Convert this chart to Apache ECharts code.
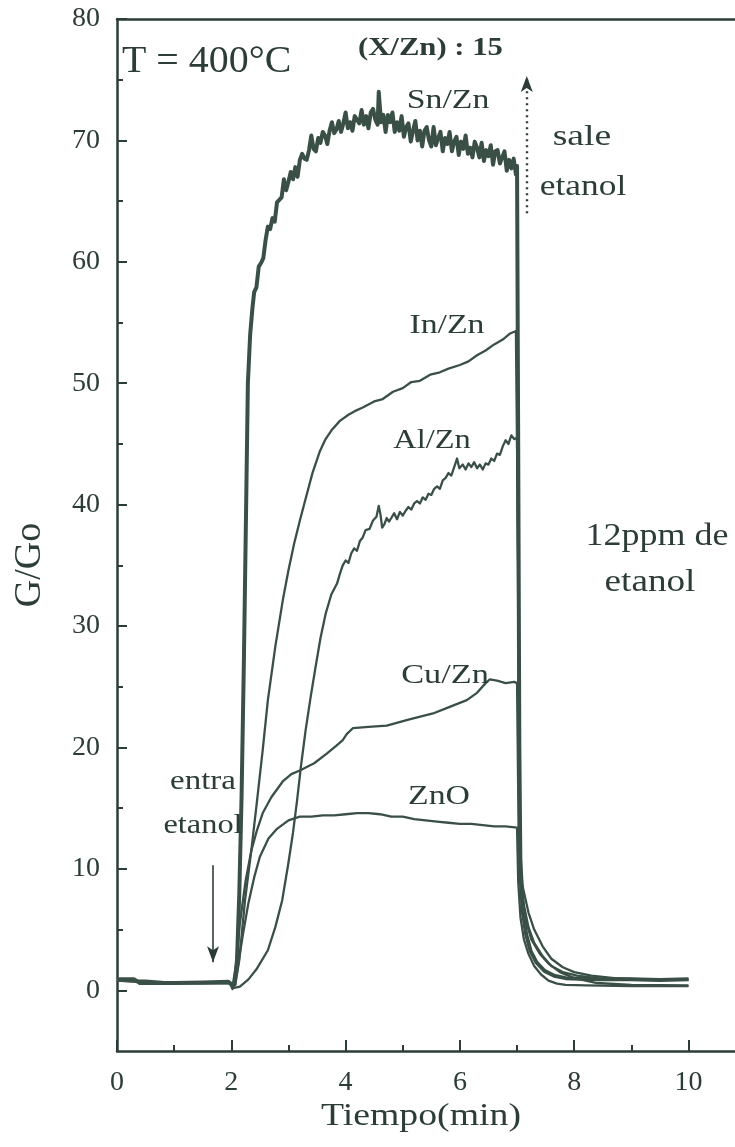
<!DOCTYPE html>
<html>
<head>
<meta charset="utf-8">
<script src="https://cdn.jsdelivr.net/npm/echarts@6/dist/echarts.min.js"></script>
<style>
  html, body { margin: 0; padding: 0; background: #ffffff; }
  #chart { width: 735px; height: 1147px; }
</style>
</head>
<body>
<div id="chart"></div>
<script>
// G/Go response of doped ZnO films, 12 ppm ethanol at 400 °C ([time in min, G/Go])
const snZn = [
  [0, 0.9], [0.3, 0.9], [0.4, 0.6], [1.0, 0.6], [1.5, 0.65], [1.95, 0.7], [2.02, 0.4], [2.06, 0.5],
  [2.1, 2.5], [2.14, 8], [2.18, 16], [2.22, 27], [2.26, 40], [2.29, 50], [2.33, 54], [2.37, 56.2],
  [2.40, 57.5], [2.44, 57.9], [2.48, 59.6], [2.52, 59.9], [2.56, 60.3], [2.60, 61.8], [2.64, 62.9],
  [2.68, 62.7], [2.72, 63.6], [2.76, 63.3], [2.80, 64.9], [2.84, 65.1], [2.88, 65.3], [2.92, 66.8],
  [2.96, 65.9], [3.00, 66.6], [3.04, 67.4], [3.08, 66.8], [3.12, 67.8], [3.16, 67.0], [3.20, 68.4],
  [3.24, 68.9], [3.28, 68.5], [3.32, 68.4], [3.36, 69.2], [3.40, 70.4], [3.44, 69.3], [3.48, 69.1],
  [3.52, 70.2], [3.56, 69.8], [3.60, 70.7], [3.64, 70.4], [3.68, 69.7], [3.72, 70.8], [3.76, 71.5],
  [3.80, 70.6], [3.84, 70.9], [3.88, 71.6], [3.92, 70.7], [3.96, 71.4], [4.00, 72.3], [4.04, 71.0],
  [4.08, 71.5], [4.12, 70.8], [4.16, 72.0], [4.20, 71.7], [4.24, 71.4], [4.28, 72.5], [4.32, 71.3],
  [4.36, 72.0], [4.40, 71.0], [4.44, 72.3], [4.48, 72.6], [4.52, 71.7], [4.56, 71.3], [4.58, 74.0],
  [4.62, 71.5], [4.66, 72.1], [4.70, 70.7], [4.74, 72.1], [4.78, 71.5], [4.82, 72.3], [4.86, 70.7],
  [4.90, 71.5], [4.94, 70.8], [4.98, 72.0], [5.02, 70.3], [5.06, 71.1], [5.10, 71.4], [5.14, 69.9],
  [5.18, 70.8], [5.22, 71.6], [5.26, 70.0], [5.30, 70.8], [5.34, 69.5], [5.38, 70.8], [5.42, 71.1],
  [5.46, 70.0], [5.50, 69.5], [5.54, 71.1], [5.58, 69.6], [5.62, 70.2], [5.66, 70.7], [5.70, 69.1],
  [5.74, 70.2], [5.78, 69.7], [5.82, 70.7], [5.86, 69.1], [5.90, 69.9], [5.94, 70.3], [5.98, 68.8],
  [6.02, 69.9], [6.06, 69.3], [6.10, 70.4], [6.14, 68.9], [6.18, 69.4], [6.22, 68.6], [6.26, 69.9],
  [6.30, 69.4], [6.34, 68.6], [6.38, 69.8], [6.42, 68.3], [6.46, 69.2], [6.50, 68.7], [6.54, 69.6],
  [6.58, 68.0], [6.62, 69.1], [6.66, 69.2], [6.70, 68.1], [6.74, 68.6], [6.78, 69.1], [6.82, 67.5],
  [6.86, 68.4], [6.90, 67.7], [6.94, 68.5], [6.98, 67.2], [7.00, 67.9],
  [7.02, 45], [7.04, 20], [7.06, 9.5], [7.10, 6.5], [7.16, 4.6], [7.24, 3.2], [7.34, 2.3],
  [7.48, 1.6], [7.65, 1.2], [7.85, 1.0], [8.1, 0.95], [8.5, 0.9], [9.0, 0.9], [9.5, 0.85], [10.0, 0.9]
];

const inZn = [
  [0, 0.8], [0.5, 0.8], [1.0, 0.6], [1.5, 0.6], [1.98, 0.6], [2.02, 0.3], [2.08, 0.8], [2.14, 2.5],
  [2.24, 7.4], [2.35, 11.5], [2.45, 15.6], [2.55, 19.8], [2.64, 23.9], [2.77, 28.3], [2.9, 32.1],
  [3.0, 34.6], [3.1, 36.8], [3.2, 38.7], [3.29, 40.3], [3.42, 42.6], [3.55, 44.4], [3.65, 45.4],
  [3.75, 46.1], [3.9, 46.9], [4.05, 47.4], [4.16, 47.7], [4.3, 48.0], [4.5, 48.5], [4.65, 48.7],
  [4.83, 49.3], [5.0, 49.6], [5.15, 50.1], [5.3, 50.2], [5.48, 50.7], [5.65, 50.9], [5.8, 51.2],
  [6.0, 51.5], [6.15, 51.8], [6.3, 52.3], [6.45, 52.7], [6.6, 53.2], [6.75, 53.6], [6.88, 54.1],
  [6.98, 54.3], [7.01, 54.2],
  [7.03, 30], [7.05, 12], [7.1, 8.5], [7.2, 6.4], [7.3, 5.0], [7.45, 3.6], [7.6, 2.6], [7.8, 1.9],
  [8.0, 1.5], [8.3, 1.2], [8.7, 1.0], [9.2, 0.9], [10.0, 0.9]
];

const alZn = [
  [0, 0.8], [0.5, 0.7], [1.0, 0.6], [1.5, 0.6], [2.0, 0.6], [2.05, 0.2], [2.15, 0.3], [2.3, 0.9],
  [2.45, 1.8], [2.64, 3.3], [2.77, 5.2], [2.89, 7.4], [3.0, 10.5], [3.08, 13.0], [3.15, 15.6],
  [3.22, 18.5], [3.3, 21.4], [3.38, 23.9], [3.47, 26.5], [3.56, 29.0], [3.65, 31.0], [3.75, 32.6],
  [3.85, 33.5], [3.9, 34.3], [3.95, 35.0], [4.0, 35.4], [4.05, 35.2], [4.1, 36.0], [4.15, 36.4],
  [4.2, 36.2], [4.25, 37.0], [4.3, 37.3], [4.35, 37.9], [4.42, 38.0], [4.48, 38.7], [4.54, 39.0],
  [4.58, 39.9], [4.61, 39.2], [4.64, 38.1], [4.68, 38.4], [4.72, 38.9], [4.76, 38.6], [4.8, 38.9],
  [4.85, 39.3], [4.9, 38.8], [4.95, 39.4], [5.0, 39.1], [5.05, 39.5], [5.1, 39.8], [5.15, 39.6],
  [5.2, 40.1], [5.25, 40.3], [5.3, 40.1], [5.35, 40.6], [5.4, 40.4], [5.45, 40.9], [5.5, 40.8],
  [5.55, 41.3], [5.6, 41.5], [5.65, 41.3], [5.7, 42.0], [5.75, 42.2], [5.8, 42.6], [5.85, 42.4],
  [5.9, 43.1], [5.95, 43.8], [5.99, 43.0], [6.05, 43.3], [6.1, 42.9], [6.15, 43.4], [6.2, 43.1],
  [6.25, 43.5], [6.3, 43.0], [6.35, 43.3], [6.4, 42.9], [6.45, 43.4], [6.5, 43.3], [6.55, 43.8],
  [6.6, 43.6], [6.65, 44.2], [6.7, 44.1], [6.75, 44.8], [6.8, 45.3], [6.85, 45.0], [6.9, 45.7],
  [6.95, 45.4], [7.0, 45.5],
  [7.03, 25], [7.06, 10], [7.12, 7.0], [7.2, 5.2], [7.3, 3.9], [7.45, 2.8], [7.6, 2.0], [7.8, 1.5],
  [8.05, 1.2], [8.4, 1.0], [9.0, 0.9], [10.0, 0.85]
];

const cuZn = [
  [0, 0.8], [0.5, 0.7], [1.0, 0.6], [1.5, 0.6], [1.98, 0.6], [2.02, 0.3], [2.08, 2.0], [2.15, 5.5],
  [2.25, 9.0], [2.35, 11.5], [2.45, 13.2], [2.55, 14.6], [2.7, 15.9], [2.9, 17.2], [3.05, 17.8],
  [3.2, 18.1], [3.45, 18.7], [3.67, 19.5], [3.85, 20.2], [3.95, 20.6], [4.02, 21.1], [4.13, 21.6],
  [4.4, 21.7], [4.72, 21.8], [5.1, 22.3], [5.53, 22.8], [5.8, 23.3], [6.12, 23.9], [6.3, 24.5],
  [6.45, 25.3], [6.52, 25.6], [6.65, 25.5], [6.8, 25.3], [6.95, 25.4], [7.0, 25.3],
  [7.03, 12], [7.08, 8.0], [7.15, 5.8], [7.25, 4.2], [7.4, 3.0], [7.55, 2.2], [7.75, 1.5],
  [8.0, 1.0], [8.4, 0.6], [9.0, 0.45], [10.0, 0.4]
];

const znO = [
  [0, 0.8], [0.5, 0.7], [1.0, 0.6], [1.5, 0.6], [1.98, 0.6], [2.02, 0.1], [2.1, 1.5], [2.2, 4.5],
  [2.3, 7.2], [2.4, 9.3], [2.5, 11.0], [2.65, 12.5], [2.8, 13.3], [3.0, 14.0], [3.2, 14.3],
  [3.4, 14.3], [3.6, 14.4], [3.8, 14.4], [4.0, 14.5], [4.2, 14.6], [4.4, 14.6], [4.6, 14.5],
  [4.8, 14.3], [5.0, 14.3], [5.2, 14.1], [5.4, 14.0], [5.6, 13.9], [5.8, 13.8], [6.0, 13.7],
  [6.2, 13.7], [6.4, 13.6], [6.6, 13.5], [6.8, 13.5], [7.0, 13.4],
  [7.02, 9], [7.06, 6], [7.12, 4.2], [7.2, 3.0], [7.3, 2.0], [7.42, 1.3], [7.55, 0.8], [7.7, 0.55],
  [7.85, 0.45], [8.2, 0.4], [9.0, 0.35], [10.0, 0.35]
];

const xTicks = [0, 2, 4, 6, 8, 10];
const yTicks = [0, 10, 20, 30, 40, 50, 60, 70, 80];

// ethanol in / out arrows, in data coordinates
const entraArrow = [[1.68, 10.3], [1.68, 2.3]];
const saleArrow = [[7.17, 64.0], [7.17, 75.3]];

const INK = '#2c3d36';
const LINE = '#3a5047';
const SERIF = '"Liberation Serif", "Times New Roman", serif';

const chart = echarts.init(document.getElementById('chart'), null, { renderer: 'canvas' });

function curve(name, data, width) {
  return {
    name: name, type: 'line', data: data, xAxisIndex: 0, yAxisIndex: 0,
    showSymbol: false, symbol: 'none', smooth: false, animation: false, silent: true,
    lineStyle: { color: LINE, width: width, join: 'round' }, z: 3
  };
}

function label(text, x, y, size, scaleX, extra) {
  extra = extra || {};
  return {
    type: 'text', x: x, y: y, scaleX: scaleX, rotation: extra.rotation || 0, silent: true, z: 10,
    style: {
      text: text, x: 0, y: 0, fill: INK,
      font: (extra.bold ? 'bold ' : '') + size + 'px ' + SERIF,
      align: extra.align || 'center', verticalAlign: 'middle',
      textAlign: extra.align || 'center', textVerticalAlign: 'middle'
    }
  };
}

const tickStyle = { color: INK, width: 2 };

const option = {
  backgroundColor: '#ffffff',
  animation: false,
  grid: [
    { left: 117, top: 19, width: 628.65, height: 1032, outerBoundsMode: 'none', containLabel: false },
    { left: 117, top: 19, width: 628.65, height: 971.3, outerBoundsMode: 'none', containLabel: false }
  ],
  xAxis: [
    {
      gridIndex: 0, type: 'value', position: 'bottom', min: 0, max: 11, interval: 2,
      axisLine: { show: true, onZero: false, lineStyle: { color: INK, width: 2.5 } },
      axisTick: { show: true, inside: true, length: 11, lineStyle: tickStyle },
      minorTick: { show: true, splitNumber: 2, length: 6, lineStyle: tickStyle },
      axisLabel: {
        margin: 18, color: INK, fontFamily: SERIF, fontSize: 28,
        formatter: v => (xTicks.indexOf(v) >= 0 ? String(v) : '')
      },
      splitLine: { show: false }, minorSplitLine: { show: false }
    },
    {
      gridIndex: 0, type: 'value', position: 'top', min: 0, max: 11,
      axisLine: { show: true, onZero: false, lineStyle: { color: INK, width: 2.5 } },
      axisTick: { show: false }, axisLabel: { show: false }, splitLine: { show: false }
    },
    {
      gridIndex: 1, type: 'value', min: 0, max: 11, show: false
    }
  ],
  yAxis: [
    {
      gridIndex: 0, type: 'value', min: -5, max: 80,
      axisLine: { show: true, onZero: false, lineStyle: { color: INK, width: 2.5 } },
      axisTick: { show: false }, axisLabel: { show: false }, splitLine: { show: false }
    },
    {
      gridIndex: 1, type: 'value', min: 0, max: 80, interval: 10,
      axisLine: { show: false },
      axisTick: { show: true, inside: true, length: 10, lineStyle: tickStyle },
      minorTick: { show: true, splitNumber: 2, length: 6, lineStyle: tickStyle },
      axisLabel: {
        margin: 17, color: INK, fontFamily: SERIF, fontSize: 28,
        formatter: v => (yTicks.indexOf(v) >= 0 ? String(v) : '')
      },
      splitLine: { show: false }, minorSplitLine: { show: false }
    }
  ],
  series: [
    Object.assign(curve('Sn/Zn', snZn, 4), {
      markLine: {
        silent: true, animation: false, symbol: ['none', 'arrow'], symbolSize: [9, 16],
        label: { show: false },
        data: [
          [
            { coord: entraArrow[0], lineStyle: { color: INK, width: 1.6, type: 'solid' } },
            { coord: entraArrow[1] }
          ],
          [
            { coord: saleArrow[0], lineStyle: { color: INK, width: 2.4, type: [2, 4] } },
            { coord: saleArrow[1] }
          ]
        ]
      }
    }),
    curve('In/Zn', inZn, 2.3),
    curve('Al/Zn', alZn, 2.3),
    curve('Cu/Zn', cuZn, 2.3),
    curve('ZnO', znO, 2.3)
  ],
  graphic: [
    label('T = 400°C', 122, 62, 38, 1.05, { align: 'left' }),
    label('(X/Zn) : 15', 358, 48, 26, 1.18, { align: 'left', bold: true }),
    label('Sn/Zn', 448, 101, 27, 1.25),
    label('In/Zn', 447, 326, 27, 1.25),
    label('Al/Zn', 432, 441, 27, 1.2),
    label('Cu/Zn', 445, 676, 27, 1.27),
    label('ZnO', 439, 797, 27, 1.25),
    label('sale', 582, 137, 29, 1.3),
    label('etanol', 583, 187, 29, 1.22),
    label('12ppm de', 657, 537, 31, 1.16),
    label('etanol', 650, 583, 31, 1.2),
    label('entra', 203, 782, 27, 1.22),
    label('etanol', 203, 826, 27, 1.2),
    label('Tiempo(min)', 421, 1117, 32, 1.18),
    label('G/Go', 30, 565, 38, 1.0, { rotation: Math.PI / 2 })
  ]
};

chart.setOption(option);
</script>
</body>
</html>
